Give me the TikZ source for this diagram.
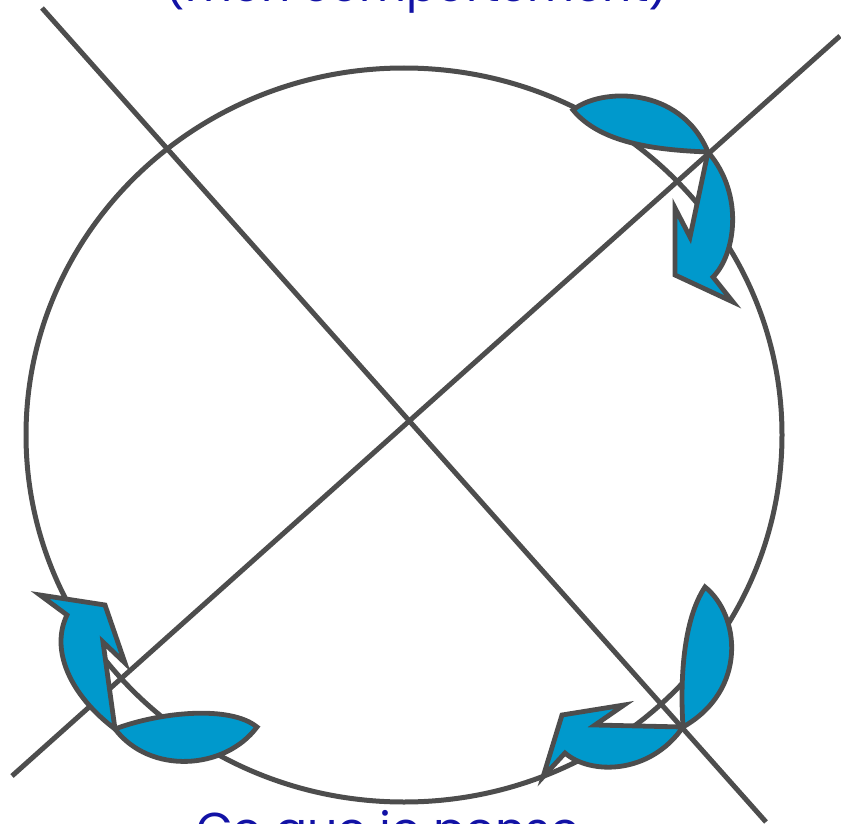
\documentclass[tikz,border=0pt]{standalone}
\usepackage{fontspec}
\setmainfont{Poppins}
\definecolor{ink}{RGB}{77,77,77}
\definecolor{petalblue}{RGB}{0,153,204}
\definecolor{txtblue}{RGB}{18,18,165}
\tikzset{
  ring/.style={draw=ink, line width=5pt},
  axisline/.style={draw=ink, line width=5pt},
  petal/.style={fill=petalblue, draw=ink, line width=4.8pt, line join=miter, miter limit=10},
  lbl/.style={text=txtblue, inner sep=0pt, anchor=base}
}
\begin{document}
\begin{tikzpicture}[x=1pt,y=-1pt]
\useasboundingbox (0,0) rectangle (841,824);
\clip (0,0) rectangle (841,824);
% text labels
\node[lbl, font=\fontsize{45.5}{52}\selectfont] (top) at (417,2) {(mon comportement)};
\node[lbl, font=\fontsize{47.5}{54}\selectfont] (bottom) at (388,846) {Ce que je pense};
% circle
\coordinate (c) at (404,435);
\draw[ring] (c) ellipse [x radius=378pt, y radius=367pt];
% crossing lines
\coordinate (a1) at (42,8);
\coordinate (a2) at (766,822);
\coordinate (b1) at (12,776);
\coordinate (b2) at (840,36);
\draw[axisline] (a1) -- (a2);
\draw[axisline] (b1) -- (b2);
% top-right leaf and arrow
\coordinate (trA) at (573,110);
\coordinate (trB) at (708,152);
\draw[petal] (trA) .. controls (600,88) and (680,85) .. (trB)
  .. controls (655,150) and (600,143) .. cycle;
\draw[petal] (trB) -- (690,237) -- (675,208) -- (675,275) -- (733,302) -- (713,277)
  .. controls (735,255) and (745,195) .. cycle;
% bottom-right leaf and arrow
\coordinate (brT) at (705,587);
\coordinate (brB) at (683,727);
\draw[petal] (brT) .. controls (740,615) and (748,690) .. (brB)
  .. controls (680,680) and (683,620) .. cycle;
\draw[petal] (brB) -- (595,725) -- (624,705) -- (562,715) -- (543,777) -- (565,753)
  .. controls (590,775) and (650,775) .. cycle;
% bottom-left leaf and arrow
\coordinate (blL) at (115,729);
\coordinate (blR) at (257,727);
\draw[petal] (blL) .. controls (160,712) and (230,705) .. (blR)
  .. controls (225,770) and (150,775) .. cycle;
\draw[petal] (blL) -- (103,642) -- (125,663) -- (105,605) -- (40,595) -- (67,615)
  .. controls (50,650) and (70,695) .. cycle;
\end{tikzpicture}
\end{document}
